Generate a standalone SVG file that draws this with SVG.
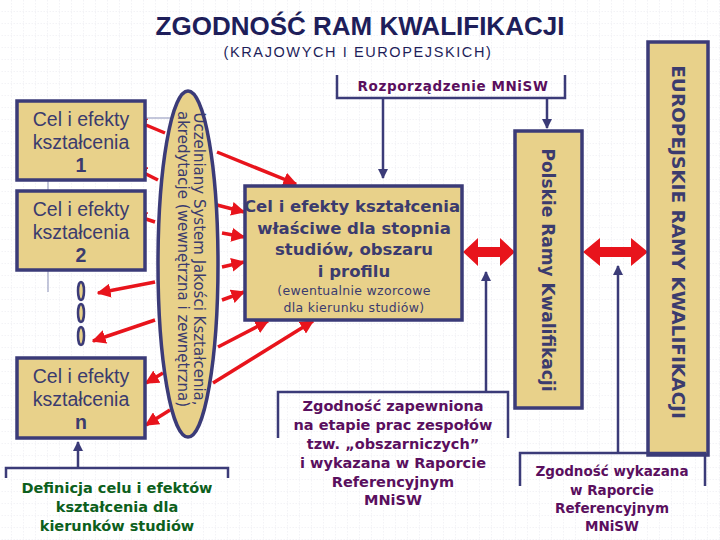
<svg xmlns="http://www.w3.org/2000/svg" width="720" height="540" viewBox="0 0 720 540">
<defs>
<pattern id="grid" width="12" height="12" patternUnits="userSpaceOnUse"><path d="M12 0V12H0" fill="none" stroke="#dcdce6" stroke-width="0.7" stroke-dasharray="1.5,1.5"/></pattern>
<marker id="rh" viewBox="0 0 10 10" refX="9" refY="5" markerWidth="4" markerHeight="4" orient="auto"><path d="M0 0L10 5L0 10z" fill="#e8141c"/></marker>
<marker id="bh" viewBox="0 0 10 10" refX="9" refY="5" markerWidth="4" markerHeight="4" orient="auto"><path d="M0 0L10 5L0 10z" fill="#3b3b78"/></marker>
</defs>
<style>
.box{fill:#e8d18a;stroke:#3b3b78;stroke-width:3.5}
.t{font-family:"Liberation Sans",Arial,sans-serif;fill:#3b3b6e;text-anchor:middle}
.d{font-family:"DejaVu Sans",Verdana,sans-serif}
.b{font-weight:bold}
.p{font-family:"DejaVu Sans",Verdana,sans-serif;fill:#5a0f5e;font-weight:bold;text-anchor:middle}
.r{stroke:#e8141c;stroke-width:3.5;fill:none;marker-end:url(#rh)}
.n{stroke:#3b3b78;stroke-width:2.5;fill:none}
</style>
<rect width="720" height="540" fill="#fff"/>
<rect width="720" height="540" fill="url(#grid)"/>
<text class="t b" x="360" y="35" font-size="26" style="fill:#1e1e5a">ZGODNOŚĆ RAM KWALIFIKACJI</text>
<text class="t" x="358" y="57" font-size="14.5" letter-spacing="1.6" style="fill:#1e1e5a">(KRAJOWYCH I EUROPEJSKICH)</text>

<g id="connectors">
<path class="r" d="M165 133L134 120"/>
<path class="r" d="M158 180L134 168"/>
<path class="r" d="M155 222L134 215"/>
<path class="r" d="M155 282L98 293"/>
<path class="r" d="M155 320L93 341"/>
<path class="r" d="M163 373L146 383"/>
<path class="r" d="M170 410L146 425"/>
<path class="r" d="M217 152L296 184"/>
<path class="r" d="M217 205L244 212"/>
<path class="r" d="M222 233L244 237"/>
<path class="r" d="M222 267L244 262"/>
<path class="r" d="M222 300L244 292"/>
<path class="r" d="M218 347L268 321"/>
<path class="r" d="M213 383L313 321"/>
<path d="M463 252L478 238V247H500V238L515 252L500 266V257H478V266Z" fill="#e8141c"/>
<path d="M583 252L600 238V247H631V238L648 252L631 266V257H600V266Z" fill="#e8141c"/>
<path class="n" d="M383 98V178" marker-end="url(#bh)"/>
<path class="n" d="M547 98V128" marker-end="url(#bh)"/>
<path class="n" d="M486 392V272" marker-end="url(#bh)"/>
<path class="n" d="M618 452V266" marker-end="url(#bh)"/>
<path class="n" d="M78 468V442" marker-end="url(#bh)"/>
<path d="M146 118H170" stroke="#8a90b8" stroke-width="1"/>
<path d="M48 181V191M48 271V292" stroke="#8a90b8" stroke-width="1"/>
</g>

<g id="cel1"><rect class="box" x="17" y="101" width="128" height="79"/>
<text class="t" font-size="19.5" x="81" y="126">Cel i efekty</text><text class="t" font-size="19.5" x="81" y="149">kształcenia</text><text class="t b" font-size="19.5" x="81" y="172">1</text></g>
<g id="cel2"><rect class="box" x="17" y="191" width="128" height="79"/>
<text class="t" font-size="19.5" x="81" y="216">Cel i efekty</text><text class="t" font-size="19.5" x="81" y="239">kształcenia</text><text class="t b" font-size="19.5" x="81" y="262">2</text></g>
<g id="dots" fill="#e8d18a" stroke="#3b3b78" stroke-width="2.5">
<ellipse cx="81" cy="291" rx="3" ry="9"/><ellipse cx="81" cy="313" rx="3" ry="9"/><ellipse cx="81" cy="336" rx="3" ry="9"/></g>
<g id="celn"><rect class="box" x="17" y="358" width="128" height="80"/>
<text class="t" font-size="19.5" x="81" y="383">Cel i efekty</text><text class="t" font-size="19.5" x="81" y="406">kształcenia</text><text class="t b" font-size="19.5" x="81" y="429">n</text></g>

<g id="uczelniany"><ellipse class="box" cx="188" cy="264" rx="30" ry="173"/>
<g transform="translate(188 259) rotate(90)">
<text class="t d" font-size="15" x="0" y="-6">Uczelniany System Jakości Kształcenia,</text>
<text class="t d" font-size="15" x="0" y="10">akredytacje (wewnętrzna i zewnętrzna)</text></g></g>

<g id="central"><rect class="box" x="245" y="186" width="217" height="134"/>
<text class="t d b" font-size="16.5" x="352" y="212">Cel i efekty kształcenia</text>
<text class="t d b" font-size="16.5" x="354" y="234">właściwe dla stopnia</text>
<text class="t d b" font-size="16.5" x="354" y="255">studiów, obszaru</text>
<text class="t d b" font-size="16.5" x="354" y="277">i profilu</text>
<text class="t d" font-size="12.5" x="354" y="295" letter-spacing="0.3">(ewentualnie wzorcowe</text>
<text class="t d" font-size="12.5" x="354" y="312" letter-spacing="0.3">dla kierunku studiów)</text></g>

<g id="rozporzadzenie"><path class="n" d="M337 75V98H565V75"/>
<text class="p" font-size="13.5" x="453" y="91" letter-spacing="0.6">Rozporządzenie MNiSW</text></g>

<g id="polskie"><rect class="box" x="515" y="131" width="67" height="277"/>
<text class="t d b" font-size="17" transform="translate(542 270) rotate(90)">Polskie Ramy Kwalifikacji</text></g>

<g id="europejskie"><rect class="box" x="648" y="42" width="60" height="413"/>
<text class="t d b" font-size="18.5" transform="translate(672 242) rotate(90)">EUROPEJSKIE RAMY KWALIFIKACJI</text></g>

<g id="zgodnosc1"><path class="n" d="M278 438V392H508V438"/>
<g class="p" font-size="14.5"><text x="393" y="411">Zgodność zapewniona</text><text x="393" y="430">na etapie prac zespołów</text><text x="393" y="449">tzw. „obszarniczych”</text><text x="393" y="468">i wykazana w Raporcie</text><text x="393" y="487">Referencyjnym</text><text x="393" y="505">MNiSW</text></g></g>

<g id="zgodnosc2"><path class="n" d="M520 486V453H705V486"/>
<g class="p" font-size="13.5"><text x="612" y="476">Zgodność wykazana</text><text x="612" y="495">w Raporcie</text><text x="612" y="513">Referencyjnym</text><text x="612" y="531">MNiSW</text></g></g>

<g id="definicja"><path class="n" d="M6 478V468H228V478"/>
<g class="p" font-size="14.5" style="fill:#0d5f1c"><text x="117" y="493">Definicja celu i efektów</text><text x="117" y="512">kształcenia dla</text><text x="117" y="531">kierunków studiów</text></g></g>
</svg>
